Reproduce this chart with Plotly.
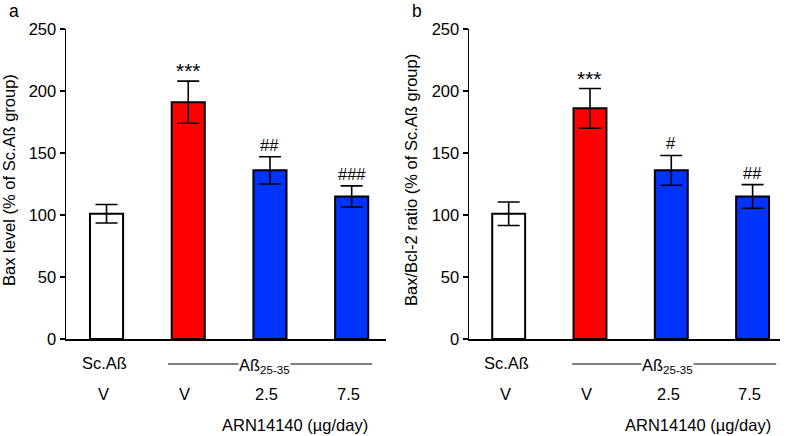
import plotly.graph_objects as go

# ---------------- data ----------------
groups = ["Sc.Aß V", "Aß V", "Aß 2.5", "Aß 7.5"]
dose_labels = ["V", "V", "2.5", "7.5"]
bar_colors = ["#ffffff", "#ff0000", "#0033ff", "#0033ff"]

bax_level = [101, 191, 136, 115]
bax_level_err = [7.5, 17, 11, 8.5]
bax_level_sig = ["", "***", "##", "###"]

bax_bcl2_ratio = [101, 186, 136, 115]
bax_bcl2_ratio_err = [9.5, 16, 12, 9.5]
bax_bcl2_ratio_sig = ["", "***", "#", "##"]

y_ticks = [0, 50, 100, 150, 200, 250]

FONT = "Liberation Sans, Arial, sans-serif"
FS = 16.5
W, H = 787, 436


def px(pix):
    return pix / W


def py(pix):
    return 1 - pix / H


fig = go.Figure()

panels = [
    dict(vals=bax_level, err=bax_level_err, sig=bax_level_sig,
         xa="x", ya="y", dom=[px(66), px(386)], rng=[-0.496, 3.42],
         title="Bax level (% of Sc.Aß group)", tx=9, letter="a", lx=14,
         line=[0.753, 3.25], abx=1.93, arnx=2.31),
    dict(vals=bax_bcl2_ratio, err=bax_bcl2_ratio_err, sig=bax_bcl2_ratio_sig,
         xa="x2", ya="y2", dom=[px(469), px(780)], rng=[-0.488, 3.337],
         title="Bax/Bcl-2 ratio (% of Sc.Aß group)", tx=411, letter="b", lx=417,
         line=[0.78, 3.29], abx=1.95, arnx=2.33),
]

annotations = []
shapes = []
for p in panels:
    xs = list(range(len(groups)))
    fig.add_trace(go.Bar(
        x=xs, y=p["vals"], width=0.405,
        marker=dict(color=bar_colors, line=dict(color="black", width=2)),
        error_y=dict(type="data", array=p["err"], visible=True,
                     color="black", thickness=1.6, width=11),
        xaxis=p["xa"], yaxis=p["ya"], showlegend=False, hoverinfo="skip",
    ))
    for i, (v, e, s) in enumerate(zip(p["vals"], p["err"], p["sig"])):
        if s:
            star = "*" in s
            annotations.append(dict(
                x=i, y=v + e, xref=p["xa"], yref=p["ya"], text=s,
                showarrow=False, yanchor="bottom", yshift=-3 if star else 1,
                font=dict(family=FONT, size=21 if star else FS, color="black")))
    annotations.append(dict(x=-0.03, y=py(363), xref=p["xa"], yref="paper",
                            text="Sc.Aß", showarrow=False, yanchor="middle",
                            font=dict(family=FONT, size=FS, color="black")))
    for i, lab in enumerate(dose_labels):
        annotations.append(dict(x=i - 0.04, y=py(394), xref=p["xa"], yref="paper",
                                text=lab, showarrow=False, yanchor="middle",
                                font=dict(family=FONT, size=FS, color="black")))
    annotations.append(dict(x=p["arnx"], y=py(425), xref=p["xa"], yref="paper",
                            text="ARN14140 (µg/day)", showarrow=False, yanchor="middle",
                            font=dict(family=FONT, size=FS, color="black")))
    shapes.append(dict(type="line", xref=p["xa"], yref="paper",
                       x0=p["line"][0], x1=p["line"][1], y0=py(364), y1=py(364),
                       line=dict(color="black", width=1)))
    annotations.append(dict(x=p["abx"], y=py(366), xref=p["xa"], yref="paper",
                            text="Aß<sub>25-35</sub>", showarrow=False, yanchor="middle",
                            bgcolor="white", borderpad=0,
                            font=dict(family=FONT, size=FS, color="black")))
    annotations.append(dict(x=px(p["tx"]), y=py(180), xref="paper", yref="paper",
                            text=p["title"], showarrow=False, textangle=-90,
                            xanchor="center", yanchor="middle",
                            font=dict(family=FONT, size=FS, color="black")))
    annotations.append(dict(x=px(p["lx"]), y=py(11), xref="paper", yref="paper",
                            text=p["letter"], showarrow=False,
                            xanchor="center", yanchor="middle",
                            font=dict(family=FONT, size=FS + 1, color="black")))

yaxis_common = dict(range=[0, 250], tickvals=y_ticks, showgrid=False, zeroline=False,
                    showline=True, linecolor="black", linewidth=1.5,
                    ticks="outside", ticklen=5, tickwidth=1.2, tickcolor="black",
                    tickfont=dict(family=FONT, size=FS, color="black"),
                    domain=[py(339), py(29)], automargin=False)
xaxis_common = dict(showgrid=False, zeroline=False, showline=True, linecolor="black",
                    linewidth=1.5, showticklabels=False, ticks="", automargin=False)

fig.update_layout(
    width=W, height=H, margin=dict(l=0, r=0, t=0, b=0, autoexpand=False),
    paper_bgcolor="white", plot_bgcolor="white",
    xaxis=dict(**xaxis_common, domain=panels[0]["dom"], range=panels[0]["rng"], anchor="y"),
    yaxis=dict(**yaxis_common, anchor="x"),
    xaxis2=dict(**xaxis_common, domain=panels[1]["dom"], range=panels[1]["rng"], anchor="y2"),
    yaxis2=dict(**yaxis_common, anchor="x2"),
    annotations=annotations, shapes=shapes, bargap=0,
)

fig.write_html("out.html",
               config={"displayModeBar": False, "staticPlot": True},
               post_script="document.body.style.margin='0';document.body.style.overflow='hidden';")
